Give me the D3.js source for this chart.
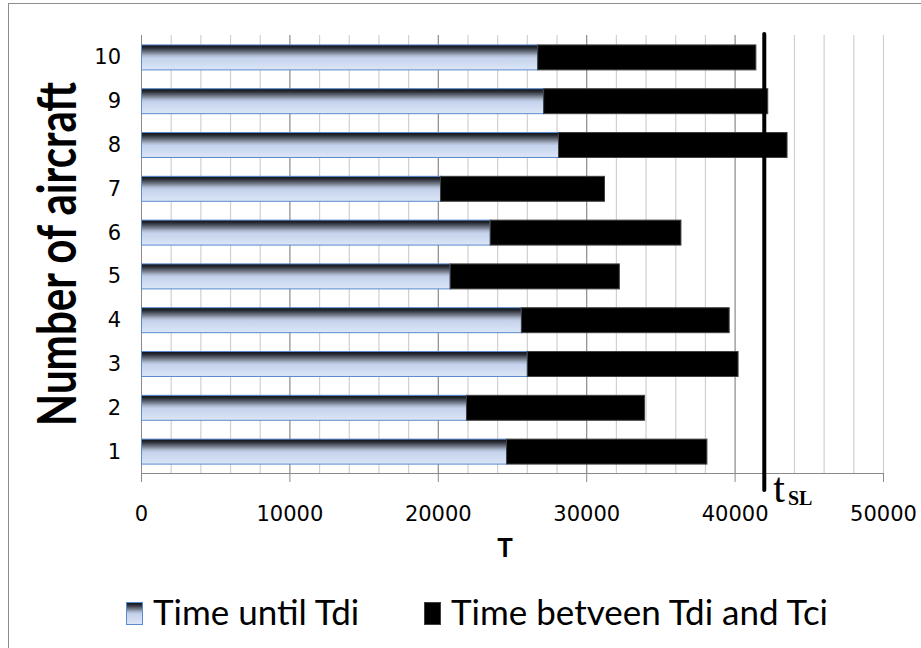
<!DOCTYPE html>
<html>
<head>
<meta charset="utf-8">
<script src="https://cdn.jsdelivr.net/npm/d3@7"></script>
<style>
  html, body { margin: 0; padding: 0; background: #fff; }
  svg { display: block; }
</style>
</head>
<body>
<svg id="chart" width="921" height="648"></svg>
<script>
// aircraft numbers and times
const aircraft = [1, 2, 3, 4, 5, 6, 7, 8, 9, 10];
const timeUntilTdi = [24600, 21900, 26000, 25600, 20800, 23500, 20150, 28100, 27100, 26700];
const timeTdiToTci = [13500, 12000, 14200, 14000, 11400, 12850, 11050, 15400, 15100, 14700];
const xTicks = [0, 10000, 20000, 30000, 40000, 50000];
const tSL = 42000;
const seriesNames = ["Time until Tdi", "Time betveen Tdi and Tci"];

const svg = d3.select("#chart");
const plotL = 141, plotR = 883, plotT = 35, plotB = 473;

const x = d3.scaleLinear().domain([0, 50000]).range([plotL, plotR]);
const y = d3.scaleBand()
    .domain(aircraft.slice().reverse())
    .range([plotT, plotB])
    .paddingInner(0.43)
    .paddingOuter(0.215);

// outer frame
svg.append("rect")
    .attr("x", 8.5).attr("y", 3.5)
    .attr("width", 1000).attr("height", 1000)
    .attr("fill", "none").attr("stroke", "#8c8c8c");

// gradient for first series
const defs = svg.append("defs");
const grad = defs.append("linearGradient")
    .attr("id", "blueGrad")
    .attr("x1", 0).attr("y1", 0).attr("x2", 0).attr("y2", 1);
[[0, "#0b0e14"], [0.12, "#2a2e37"], [0.28, "#6d7482"], [0.42, "#aab6cc"], [0.52, "#c4d2ec"], [1, "#dce6f6"]]
    .forEach(s => grad.append("stop").attr("offset", s[0]).attr("stop-color", s[1]));

// grid lines every 2000
const gridVals = d3.range(2000, 50001, 2000);
svg.append("g").selectAll("line")
    .data(gridVals)
    .join("line")
    .attr("x1", d => x(d) + 0.5).attr("x2", d => x(d) + 0.5)
    .attr("y1", plotT).attr("y2", plotB)
    .attr("stroke", d => (d % 10000 === 0 && d < 50000) ? "#8a8a8a" : "#d0d0d0")
    .attr("stroke-width", 1.2);

// x axis
const xAxis = svg.append("g")
    .attr("transform", `translate(0,${plotB})`)
    .call(d3.axisBottom(x).tickValues(xTicks).tickSize(9).tickPadding(24).tickFormat(d3.format("d")));
xAxis.select(".domain").attr("stroke", "#8a8a8a").attr("d", `M${plotL},0.5H${plotR}`);
xAxis.selectAll(".tick line").attr("stroke", "#8a8a8a");
xAxis.selectAll(".tick text")
    .attr("font-family", "DejaVu Sans, Verdana, sans-serif")
    .attr("font-size", 21).attr("fill", "#000");

// y axis
svg.append("line")
    .attr("x1", plotL + 0.5).attr("x2", plotL + 0.5)
    .attr("y1", plotT).attr("y2", plotB + 9)
    .attr("stroke", "#8a8a8a");
svg.append("g").selectAll("text")
    .data(aircraft)
    .join("text")
    .attr("x", 121)
    .attr("y", d => y(d) + y.bandwidth() / 2)
    .attr("dy", "0.36em")
    .attr("text-anchor", "end")
    .attr("font-family", "DejaVu Sans, Verdana, sans-serif")
    .attr("font-size", 21)
    .text(d => d);

// bars
const bars = svg.append("g");
bars.selectAll("rect.until")
    .data(aircraft)
    .join("rect")
    .attr("class", "until")
    .attr("x", x(0) + 0.5)
    .attr("y", d => y(d) + 0.5)
    .attr("width", (d, i) => x(timeUntilTdi[i]) - x(0))
    .attr("height", y.bandwidth())
    .attr("fill", "url(#blueGrad)")
    .attr("stroke", "#5a8ad0").attr("stroke-width", 1);
bars.selectAll("rect.between")
    .data(aircraft)
    .join("rect")
    .attr("class", "between")
    .attr("x", (d, i) => x(timeUntilTdi[i]) + 0.5)
    .attr("y", d => y(d) + 0.5)
    .attr("width", (d, i) => x(timeUntilTdi[i] + timeTdiToTci[i]) - x(timeUntilTdi[i]))
    .attr("height", y.bandwidth())
    .attr("fill", "#000")
    .attr("stroke", "#404040").attr("stroke-width", 1);

// tSL line
svg.append("line")
    .attr("x1", x(tSL)).attr("x2", x(tSL))
    .attr("y1", 34).attr("y2", 490)
    .attr("stroke", "#000").attr("stroke-width", 4)
    .attr("stroke-linecap", "round");
const tl = svg.append("text")
    .attr("x", x(tSL) + 9).attr("y", 502)
    .attr("font-family", "Liberation Serif, Times New Roman, serif");
tl.append("tspan").attr("font-size", 42).text("t");
tl.append("tspan").attr("font-size", 20).attr("font-weight", "bold").attr("dx", 3).attr("dy", 3).text("SL");

// axis titles
svg.append("text")
    .attr("x", 505).attr("y", 557)
    .attr("text-anchor", "middle")
    .attr("font-family", "Lato, sans-serif")
    .attr("font-weight", "bold").attr("font-size", 26)
    .text("T");
svg.append("text")
    .attr("transform", "translate(76,254) rotate(-90) scale(0.78,1)")
    .attr("text-anchor", "middle")
    .attr("font-family", "Lato, sans-serif")
    .attr("font-weight", "bold").attr("font-size", 54)
    .text("Number of aircraft");

// legend
const legend = svg.append("g");
const legX = [126, 424];
legend.selectAll("rect")
    .data(seriesNames)
    .join("rect")
    .attr("x", (d, i) => legX[i] + 0.5).attr("y", 602.5)
    .attr("width", 16).attr("height", 22)
    .attr("fill", (d, i) => i === 0 ? "url(#blueGrad)" : "#000")
    .attr("stroke", (d, i) => i === 0 ? "#5a8ad0" : "#404040");
legend.selectAll("text")
    .data(seriesNames)
    .join("text")
    .attr("x", (d, i) => legX[i] + 27).attr("y", 625)
    .attr("font-family", "Lato, sans-serif")
    .attr("font-size", 35)
    .text(d => d);
</script>
</body>
</html>
